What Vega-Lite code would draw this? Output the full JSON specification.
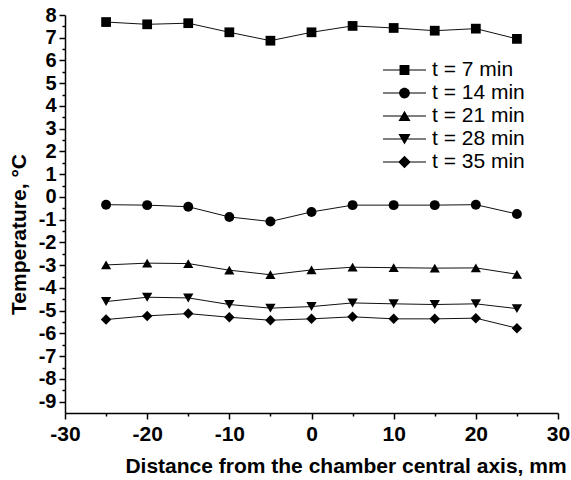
{
  "$schema": "https://vega.github.io/schema/vega-lite/v6.json",
  "width": 493,
  "height": 398,
  "autosize": {"type": "none"},
  "padding": {"left": 65, "top": 15, "right": 13, "bottom": 67},
  "background": "white",
  "config": {"view": {"stroke": null}, "font": "Liberation Sans"},
  "data": {"values": [
    {"x": -25, "T": 7.69, "series": "t = 7 min"},
    {"x": -20, "T": 7.59, "series": "t = 7 min"},
    {"x": -15, "T": 7.64, "series": "t = 7 min"},
    {"x": -10, "T": 7.24, "series": "t = 7 min"},
    {"x": -5, "T": 6.87, "series": "t = 7 min"},
    {"x": 0, "T": 7.24, "series": "t = 7 min"},
    {"x": 5, "T": 7.52, "series": "t = 7 min"},
    {"x": 10, "T": 7.43, "series": "t = 7 min"},
    {"x": 15, "T": 7.31, "series": "t = 7 min"},
    {"x": 20, "T": 7.40, "series": "t = 7 min"},
    {"x": 25, "T": 6.95, "series": "t = 7 min"},
    {"x": -25, "T": -0.34, "series": "t = 14 min"},
    {"x": -20, "T": -0.36, "series": "t = 14 min"},
    {"x": -15, "T": -0.43, "series": "t = 14 min"},
    {"x": -10, "T": -0.88, "series": "t = 14 min"},
    {"x": -5, "T": -1.08, "series": "t = 14 min"},
    {"x": 0, "T": -0.66, "series": "t = 14 min"},
    {"x": 5, "T": -0.36, "series": "t = 14 min"},
    {"x": 10, "T": -0.36, "series": "t = 14 min"},
    {"x": 15, "T": -0.36, "series": "t = 14 min"},
    {"x": 20, "T": -0.34, "series": "t = 14 min"},
    {"x": 25, "T": -0.75, "series": "t = 14 min"},
    {"x": -25, "T": -2.99, "series": "t = 21 min"},
    {"x": -20, "T": -2.91, "series": "t = 21 min"},
    {"x": -15, "T": -2.93, "series": "t = 21 min"},
    {"x": -10, "T": -3.22, "series": "t = 21 min"},
    {"x": -5, "T": -3.42, "series": "t = 21 min"},
    {"x": 0, "T": -3.21, "series": "t = 21 min"},
    {"x": 5, "T": -3.09, "series": "t = 21 min"},
    {"x": 10, "T": -3.11, "series": "t = 21 min"},
    {"x": 15, "T": -3.13, "series": "t = 21 min"},
    {"x": 20, "T": -3.12, "series": "t = 21 min"},
    {"x": 25, "T": -3.40, "series": "t = 21 min"},
    {"x": -25, "T": -4.60, "series": "t = 28 min"},
    {"x": -20, "T": -4.41, "series": "t = 28 min"},
    {"x": -15, "T": -4.44, "series": "t = 28 min"},
    {"x": -10, "T": -4.73, "series": "t = 28 min"},
    {"x": -5, "T": -4.89, "series": "t = 28 min"},
    {"x": 0, "T": -4.82, "series": "t = 28 min"},
    {"x": 5, "T": -4.66, "series": "t = 28 min"},
    {"x": 10, "T": -4.70, "series": "t = 28 min"},
    {"x": 15, "T": -4.73, "series": "t = 28 min"},
    {"x": 20, "T": -4.70, "series": "t = 28 min"},
    {"x": 25, "T": -4.91, "series": "t = 28 min"},
    {"x": -25, "T": -5.39, "series": "t = 35 min"},
    {"x": -20, "T": -5.23, "series": "t = 35 min"},
    {"x": -15, "T": -5.13, "series": "t = 35 min"},
    {"x": -10, "T": -5.29, "series": "t = 35 min"},
    {"x": -5, "T": -5.42, "series": "t = 35 min"},
    {"x": 0, "T": -5.36, "series": "t = 35 min"},
    {"x": 5, "T": -5.27, "series": "t = 35 min"},
    {"x": 10, "T": -5.36, "series": "t = 35 min"},
    {"x": 15, "T": -5.36, "series": "t = 35 min"},
    {"x": 20, "T": -5.33, "series": "t = 35 min"},
    {"x": 25, "T": -5.77, "series": "t = 35 min"}
  ]},
  "encoding": {
    "x": {
      "field": "x", "type": "quantitative",
      "scale": {"domain": [-30, 30], "nice": false, "zero": false},
      "axis": {
        "values": [-30, -25, -20, -15, -10, -5, 0, 5, 10, 15, 20, 25, 30],
        "labelExpr": "datum.value % 10 === 0 ? '' + datum.value : ''",
        "tickSize": {"condition": {"test": "datum.value % 10 === 0", "value": 6}, "value": 3},
        "grid": false,
        "domainColor": "black", "domainWidth": 1.5,
        "tickColor": "black", "tickWidth": 1.5,
        "labelFont": "Liberation Sans", "labelFontSize": 21, "labelFontWeight": "bold", "labelColor": "black",
        "labelPadding": 4, "labelFlush": false, "labelOverlap": false,
        "title": "Distance from the chamber central axis, mm",
        "titleFont": "Liberation Sans", "titleFontSize": 21, "titleFontWeight": "bold", "titleColor": "black",
        "titleX": 280.5, "titleY": 59, "titleBaseline": "alphabetic"
      }
    },
    "y": {
      "field": "T", "type": "quantitative",
      "scale": {"domain": [-9.5, 8], "nice": false, "zero": false},
      "axis": {
        "values": [-9, -8.5, -8, -7.5, -7, -6.5, -6, -5.5, -5, -4.5, -4, -3.5, -3, -2.5, -2, -1.5, -1, -0.5, 0, 0.5, 1, 1.5, 2, 2.5, 3, 3.5, 4, 4.5, 5, 5.5, 6, 6.5, 7, 7.5, 8],
        "labelExpr": "datum.value % 1 === 0 ? '' + datum.value : ''",
        "tickSize": {"condition": {"test": "datum.value % 1 === 0", "value": 6}, "value": 3},
        "grid": false,
        "domainColor": "black", "domainWidth": 1.5,
        "tickColor": "black", "tickWidth": 1.5,
        "labelFont": "Liberation Sans", "labelFontSize": 20, "labelFontWeight": "bold", "labelColor": "black",
        "labelPadding": 3, "labelFlush": false, "labelOverlap": false,
        "title": "Temperature, °C",
        "titleFont": "Liberation Sans", "titleFontSize": 21, "titleFontWeight": "bold", "titleColor": "black",
        "titleX": -40, "titleY": 219, "titleBaseline": "alphabetic", "titleAngle": 270
      }
    }
  },
  "layer": [
    {
      "mark": {"type": "line", "color": "#111111", "strokeWidth": 1},
      "encoding": {"detail": {"field": "series", "type": "nominal"}}
    },
    {
      "mark": {"type": "point", "filled": true, "color": "black", "opacity": 1},
      "encoding": {
        "shape": {
          "field": "series", "type": "nominal",
          "scale": {"domain": ["t = 7 min", "t = 14 min", "t = 21 min", "t = 28 min", "t = 35 min"],
                    "range": ["square", "circle", "triangle-up", "triangle-down", "diamond"]},
          "legend": null
        },
        "size": {
          "field": "series", "type": "nominal",
          "scale": {"domain": ["t = 7 min", "t = 14 min", "t = 21 min", "t = 28 min", "t = 35 min"],
                    "range": [95, 110, 150, 150, 150]},
          "legend": null
        }
      }
    },
    {
      "transform": [{"filter": "false"}],
      "mark": {"type": "point", "filled": true, "color": "black", "opacity": 1},
      "encoding": {
        "shape": {
          "field": "series", "type": "nominal",
          "scale": {"domain": ["t = 7 min", "t = 14 min", "t = 21 min", "t = 28 min", "t = 35 min"],
                    "range": [
                      "M-1,-0.023H-0.1V0.023H-1Z M0.1,-0.023H1V0.023H0.1Z M-0.23,-0.23H0.23V0.23H-0.23Z",
                      "M-1,-0.023H-0.1V0.023H-1Z M0.1,-0.023H1V0.023H0.1Z M-0.25,0A0.25,0.25 0 1,1 0.25,0A0.25,0.25 0 1,1 -0.25,0Z",
                      "M-1,-0.023H-0.1V0.023H-1Z M0.1,-0.023H1V0.023H0.1Z M0,-0.25L0.28,0.23H-0.28Z",
                      "M-1,-0.023H-0.1V0.023H-1Z M0.1,-0.023H1V0.023H0.1Z M0,0.25L-0.28,-0.23H0.28Z",
                      "M-1,-0.023H-0.1V0.023H-1Z M0.1,-0.023H1V0.023H0.1Z M0,-0.29L0.29,0L0,0.29L-0.29,0Z"
                    ]},
          "legend": {
            "orient": "none", "legendX": 318, "legendY": 43.5,
            "title": null, "padding": 0,
            "symbolSize": 1849, "clipHeight": 23, "rowPadding": 0,
            "labelOffset": 6, "labelFont": "Liberation Sans", "labelFontSize": 21, "labelColor": "black",
            "symbolFillColor": "black", "symbolStrokeWidth": 0
          }
        }
      }
    }
  ],
  "resolve": {"scale": {"shape": "independent", "size": "independent"}}
}
